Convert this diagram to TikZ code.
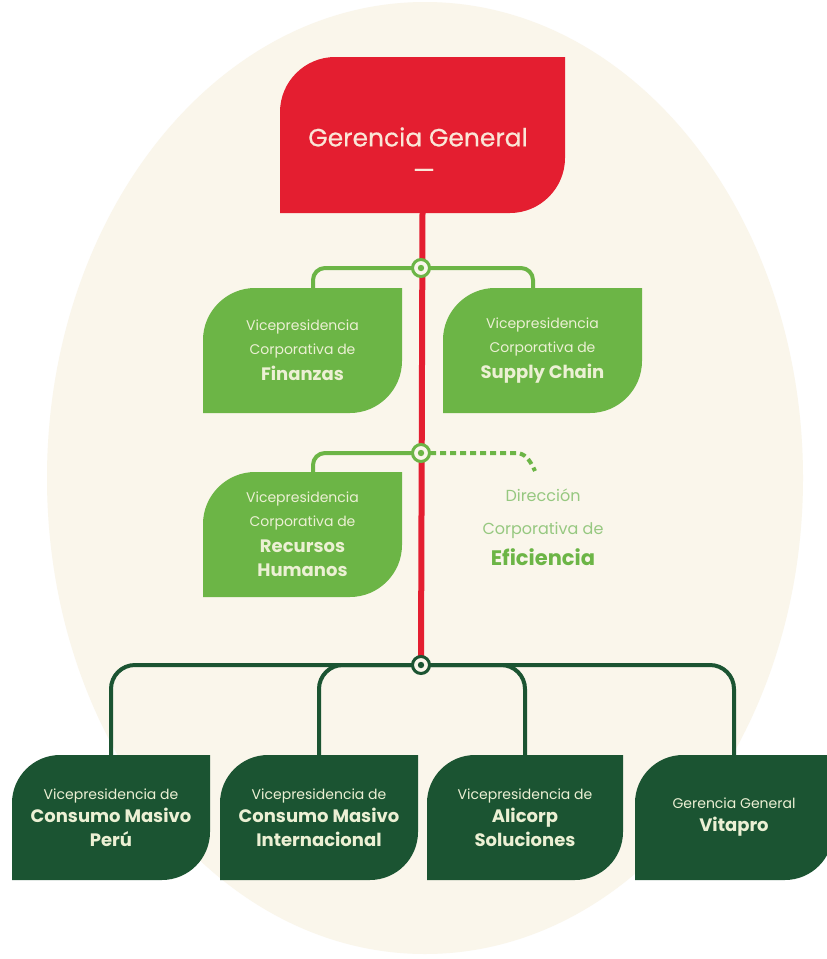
\documentclass[tikz,border=0pt]{standalone}
\usepackage{fontspec}
\setmainfont{Poppins}
\newfontfamily\medfont[FakeBold=0.6]{Poppins}
\usetikzlibrary{calc}
\definecolor{cream}{RGB}{250,246,235}
\definecolor{ared}{RGB}{228,30,48}
\definecolor{lgreen}{RGB}{108,181,70}
\definecolor{dgreen}{RGB}{27,84,50}
\definecolor{boxtext}{RGB}{236,240,212}
\definecolor{redtext}{RGB}{250,230,215}
\definecolor{dirtext}{RGB}{150,200,128}
\newcommand\smline{\fontsize{14}{24}\selectfont}
\newcommand\bgline{\fontsize{18}{24}\selectfont\bfseries}
\begin{document}
\begin{tikzpicture}[x=1pt,y=-1pt,
  leaf/.style 2 args={rectangle, inner sep=0pt, minimum width=199pt, minimum height=125pt,
    align=center, text=boxtext, font=\smline,
    path picture={\fill[#1] let \p1=(path picture bounding box.south west),
        \p2=(path picture bounding box.north east) in
        (\x1,\y1) -- (\x1,\y2-#2) .. controls (\x1,\y2-0.45*#2) and (\x1+0.45*#2,\y2) .. (\x1+#2,\y2)
        -- (\x2,\y2) -- (\x2,\y1+#2) .. controls (\x2,\y1+0.45*#2) and (\x2-0.45*#2,\y1) .. (\x2-#2,\y1)
        -- cycle;}},
  joint/.style={circle, draw=#1, line width=3pt, fill=cream, minimum size=17pt, inner sep=0pt,
    path picture={\fill[#1] (path picture bounding box.center) circle[radius=3.2pt];}},
  lgline/.style={draw=lgreen, line width=4pt, rounded corners=12pt},
  dgline/.style={draw=dgreen, line width=4pt, rounded corners=24pt},
  redline/.style={draw=ared, line width=6pt}
]
\useasboundingbox (0,0) rectangle (827,959);
\fill[white] (0,0) rectangle (827,959);
\begin{scope}
  \clip (0,0) rectangle (827,959);
  \fill[cream] (425,478) ellipse [x radius=378pt, y radius=476pt];
\end{scope}

% boxes
\node[leaf={ared}{55pt}, minimum width=285pt, minimum height=156pt] (gg) at (422.5,135) {};
\node[text=redtext, font=\medfont\fontsize{25}{30}\selectfont] (ggt) at (418,137) {Gerencia General};
\node[text=redtext, font=\medfont\fontsize{25}{30}\selectfont] (ggd) at (424,174) {—};

\node[leaf={lgreen}{52pt}] (fin) at (302.5,350.5) {Vicepresidencia\\Corporativa de\\[2pt]\bgline Finanzas};
\node[leaf={lgreen}{52pt}] (sc) at (542.5,350.5) {Vicepresidencia\\Corporativa de\\[2pt]\bgline Supply Chain};
\node[leaf={lgreen}{52pt}] (hr) at (302.5,534.5) {Vicepresidencia\\Corporativa de\\[2pt]\bgline Recursos\\\bgline Humanos};

\node[align=center, text=dirtext, font=\fontsize{16}{33}\selectfont] (dce) at (543,527)
  {Dirección\\Corporativa de\\[-2pt]{\fontsize{21}{30}\selectfont\bfseries\color{lgreen}Eficiencia}};

\node[leaf={dgreen}{48pt}, minimum width=198pt] (b1) at (111,817.5) {Vicepresidencia de\\[-1pt]\bgline Consumo Masivo\\\bgline Perú};
\node[leaf={dgreen}{48pt}, minimum width=198pt] (b2) at (319,817.5) {Vicepresidencia de\\[-1pt]\bgline Consumo Masivo\\\bgline Internacional};
\node[leaf={dgreen}{48pt}, minimum width=196pt] (b3) at (525,817.5) {Vicepresidencia de\\[-1pt]\bgline Alicorp\\\bgline Soluciones};
\node[leaf={dgreen}{48pt}, minimum width=198pt] (b4) at (734,817.5) {Gerencia General\\[-1pt]\bgline Vitapro};

% joint positions
\coordinate (c1) at (421,268);
\coordinate (c2) at (421,453);
\coordinate (c3) at (421,665);
\coordinate (dend) at (535,471);

% connectors
\draw[lgline] (c1) -| ([xshift=10.5pt]fin.north);
\draw[lgline] (c1) -| ([xshift=-9.5pt]sc.north);
\draw[lgline] (c2) -| ([xshift=10.5pt]hr.north);
\draw[draw=lgreen, line width=4pt, dash pattern=on 6pt off 4pt] ([xshift=9pt]c2) -- (516,453) .. controls (525,453) and (530,460) .. (dend);
\draw[dgline] (b1.north) |- (c3) -| (b4.north);
\draw[dgline] (c3) -| (b2.north);
\draw[dgline] (c3) -| (b3.north);
\draw[redline] (gg.south) -- (c3);

% joints
\node[joint=lgreen] (j1) at (c1) {};
\node[joint=lgreen] (j2) at (c2) {};
\node[joint=dgreen] (j3) at (c3) {};
\end{tikzpicture}
\end{document}
